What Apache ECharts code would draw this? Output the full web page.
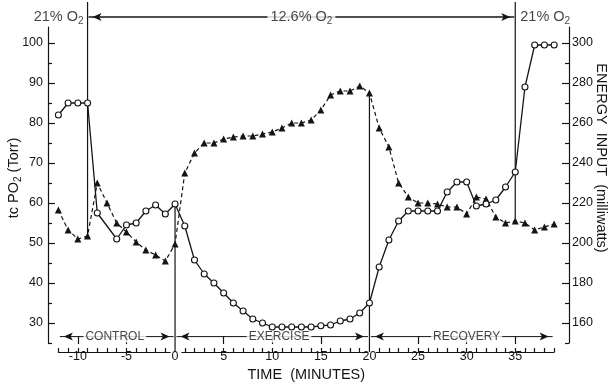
<!DOCTYPE html>
<html><head><meta charset="utf-8">
<script src="https://cdn.jsdelivr.net/npm/echarts@6/dist/echarts.min.js"></script>
<style>html,body{margin:0;padding:0;background:#fff}#c{width:611px;height:383px}</style>
</head><body><div id="c"></div>
<script>
// ---------------- DATA ----------------
const po2Times = [-12,-11,-10,-9,-8,-6,-5,-4,-3,-2,-1,0,1,2,3,4,5,6,7,8,9,10,11,12,13,14,15,16,17,18,19,20,21,22,23,24,25,26,27,28,29,30,31,32,33,34,35,36,37,38,39];
const po2Values = [82,85,85,85,57.5,51,54.5,55,58,59.5,57.25,59.75,54.25,45.75,42.25,40,37.5,35,33,31,30,29,29,29,29,29,29.3,29.5,30.5,31,32.5,35,44,50.75,55.5,58,58,58,58,62.75,65.25,65.25,59.25,59.75,60.75,64,67.75,89,99.5,99.5,99.5];
const energyTimes = [-12,-11,-10,-9,-8,-7,-6,-5,-4,-3,-2,-1,0,1,2,3,4,5,6,7,8,9,10,11,12,13,14,15,16,17,18,19,20,21,22,23,24,25,26,27,28,29,30,31,32,33,34,35,36,37,38,39];
const energyValues = [216.5,206.5,202,203.5,230,220,210,205.5,200.5,196.5,194,191,199.5,235,245,250,250,252,253,253.5,253.5,254.5,255.5,257.5,260,260,261.5,266.5,274,276,276,278.5,275,257.5,248,230,223,220,220,219.5,218,218,214.5,223,222,213,210,211,210,206.5,208,209.5];
const leftTickLabels = [30,40,50,60,70,80,90,100];
const leftMinorTicks = [25,35,45,55,65,75,85,95];
const rightTickLabels = [160,180,200,220,240,260,280,300];
const rightMinorTicks = [150,170,190,210,230,250,270,290];
const timeTickLabels = [-10,-5,0,5,10,15,20,25,30,35];
const timeMajorTicks = [-10,-5,5,10,15,25,30,35];
const rulerSegments = [[-12,-0.5],[0.7,19.8],[20.7,39]];
const phases = [{name:'CONTROL',start:-12,end:0,labelAt:-6.2},{name:'EXERCISE',start:0,end:20,labelAt:10.7},{name:'RECOVERY',start:20,end:39,labelAt:30}];
const o2ChangeTimes = [-9,35];
const o2Labels = ['21% O', '12.6% O', '21% O'];
const phaseBoundTimes = [0,20];

// ---------------- LAYOUT / STYLE ----------------
const INK = '#141414';
const FONT = "'Liberation Sans', Arial, sans-serif";
const PLOT = {left:48, right:42, top:27, bottom:40};
const W = 611;
const PLOT_W = W - PLOT.left - PLOT.right;
const X_EXT = [-13.07, 40.53];
const Y_LEFT_EXT = [25, 104];
const Y_RIGHT_EXT = [150, 308];
const tx = t => PLOT.left + (t - X_EXT[0]) / (X_EXT[1] - X_EXT[0]) * PLOT_W;
const toLeft = e => Y_LEFT_EXT[0] + (e - Y_RIGHT_EXT[0]) * (Y_LEFT_EXT[1] - Y_LEFT_EXT[0]) / (Y_RIGHT_EXT[1] - Y_RIGHT_EXT[0]);
const RULER_TOP = 340, RULER_H = 12;
const V_TOP = 110.25, V_BOTTOM = 22.75, V_O2ROW = 106.5, V_PHASEROW = 26.6;

const po2At = t => po2Values[po2Times.indexOf(t)];
const enAt = t => energyValues[energyTimes.indexOf(t)];

const chart = echarts.init(document.getElementById('c'));

const grids = [{left:PLOT.left, right:PLOT.right, top:PLOT.top, bottom:PLOT.bottom}];
const xAxes = [{gridIndex:0, type:'value', min:X_EXT[0], max:X_EXT[1], show:false, axisLine:{onZero:false}}];
const axisBase = {
  type:'value', splitLine:{show:false},
  axisLine:{show:true, onZero:false, lineStyle:{color:INK, width:1.2}},
};
const yAxes = [
  Object.assign({}, axisBase, {gridIndex:0, position:'left', min:Y_LEFT_EXT[0], max:Y_LEFT_EXT[1],
    axisTick:{show:true, inside:true, length:7, customValues:leftTickLabels, lineStyle:{color:INK,width:1.2}},
    axisLabel:{customValues:leftTickLabels, margin:5, color:INK, fontFamily:FONT, fontSize:12.5}}),
  {gridIndex:0, type:'value', position:'left', min:Y_LEFT_EXT[0], max:Y_LEFT_EXT[1], splitLine:{show:false},
    axisLine:{show:false, onZero:false}, axisLabel:{show:false},
    axisTick:{show:true, inside:true, length:4, customValues:leftMinorTicks, lineStyle:{color:INK,width:1.2}}},
  Object.assign({}, axisBase, {gridIndex:0, position:'right', min:Y_RIGHT_EXT[0], max:Y_RIGHT_EXT[1],
    axisTick:{show:true, inside:true, length:7, customValues:rightTickLabels, lineStyle:{color:INK,width:1.2}},
    axisLabel:{customValues:rightTickLabels, margin:3, color:INK, fontFamily:FONT, fontSize:12.5}}),
  {gridIndex:0, type:'value', position:'right', min:Y_RIGHT_EXT[0], max:Y_RIGHT_EXT[1], splitLine:{show:false},
    axisLine:{show:false, onZero:false}, axisLabel:{show:false},
    axisTick:{show:true, inside:true, length:4, customValues:rightMinorTicks, lineStyle:{color:INK,width:1.2}}}
];

rulerSegments.forEach(seg => {
  const gi = grids.length;
  grids.push({left:tx(seg[0]), width:tx(seg[1]) - tx(seg[0]), top:RULER_TOP, height:RULER_H});
  const ints = [];
  for (let i = Math.ceil(seg[0]); i <= Math.floor(seg[1]); i++) ints.push(i);
  xAxes.push({gridIndex:gi, type:'value', min:seg[0], max:seg[1], position:'bottom', splitLine:{show:false},
    axisLine:{show:true, onZero:false, lineStyle:{color:INK, width:1.2}},
    axisTick:{show:true, inside:true, length:4, customValues:ints, lineStyle:{color:INK, width:1.2}},
    axisLabel:{show:false}});
  yAxes.push({gridIndex:gi, type:'value', show:false, min:0, max:1, axisLine:{onZero:false}});
});
{
  const gi = grids.length;
  grids.push({left:tx(-12), width:tx(39) - tx(-12), top:RULER_TOP, height:RULER_H});
  xAxes.push({gridIndex:gi, type:'value', min:-12, max:39, position:'bottom', splitLine:{show:false},
    axisLine:{show:false, onZero:false},
    axisTick:{show:true, inside:true, length:8, customValues:timeMajorTicks, lineStyle:{color:INK, width:1.2}},
    axisLabel:{customValues:timeTickLabels, margin:6, color:INK, fontFamily:FONT, fontSize:12.5},
    name:'TIME  (MINUTES)', nameLocation:'middle', nameGap:23,
    nameTextStyle:{color:INK, fontFamily:FONT, fontSize:14.5}});
  yAxes.push({gridIndex:gi, type:'value', show:false, min:0, max:1, axisLine:{onZero:false}});
}

const series = [];
// vertical markers
function vline(data){
  return {type:'line', xAxisIndex:0, yAxisIndex:0, data:data, symbol:'none', clip:false, silent:true, z:1,
    lineStyle:{color:INK, width:1.2}};
}
o2ChangeTimes.forEach(t => {
  const low = Math.min(po2At(t), toLeft(enAt(t)));
  series.push(vline([[t, V_TOP], [t, low]]));
});
phaseBoundTimes.forEach(t => {
  const high = Math.max(po2At(t), toLeft(enAt(t)));
  series.push(vline([[t, high], [t, V_BOTTOM]]));
});
// arrows
function arrow(t0, t1, v, lw){
  return {type:'line', xAxisIndex:0, yAxisIndex:0, clip:false, silent:true, z:1,
    data:[{value:[t0, v], symbol:'arrow', symbolRotate:90, symbolOffset:[4,0]},
          {value:[t1, v], symbol:'arrow', symbolRotate:-90, symbolOffset:[-4,0]}],
    symbolSize:[6,9], itemStyle:{color:INK}, lineStyle:{color:INK, width:lw}};
}
series.push(arrow(o2ChangeTimes[0] + 0.1, o2ChangeTimes[1] - 0.1, V_O2ROW, 1.4));
phases.forEach(p => series.push(arrow(p.start + 0.15, p.end - 0.15, V_PHASEROW, 1)));

const richO2 = {
  t:{fontSize:14.5, fontFamily:FONT, color:INK},
  s:{fontSize:10, fontFamily:FONT, color:INK, padding:[8,0,0,0]}
};
const labelData = [
  {value:[o2ChangeTimes[0], V_O2ROW], label:{position:'left', distance:3, formatter:'{t|' + o2Labels[0] + '}{s|2}'}},
  {value:[(o2ChangeTimes[0] + o2ChangeTimes[1]) / 2, V_O2ROW], label:{position:'inside', formatter:'{t|' + o2Labels[1] + '}{s|2}', backgroundColor:'#fff', padding:[0,3]}},
  {value:[o2ChangeTimes[1], V_O2ROW], label:{position:'right', distance:4, formatter:'{t|' + o2Labels[2] + '}{s|2}'}}
];
phases.forEach(p => labelData.push({value:[p.labelAt, V_PHASEROW],
  label:{position:'inside', formatter:p.name, backgroundColor:'#fff', padding:[0,2],
    fontSize:12, fontFamily:FONT, color:INK}}));
series.push({type:'scatter', xAxisIndex:0, yAxisIndex:0, clip:false, silent:true, z:3,
  symbolSize:2, itemStyle:{color:'rgba(0,0,0,0)'}, data:labelData,
  label:{show:true, rich:richO2, color:INK}});

// data series
series.push({type:'line', name:'Energy input', xAxisIndex:0, yAxisIndex:2, z:4,
  data:energyTimes.map((t, i) => [t, energyValues[i]]),
  symbol:'triangle', symbolSize:7, itemStyle:{color:INK},
  lineStyle:{color:INK, width:1.2, type:[4,3]}});
series.push({type:'line', name:'tc PO2', xAxisIndex:0, yAxisIndex:0, z:5,
  data:po2Times.map((t, i) => [t, po2Values[i]]),
  symbol:'circle', symbolSize:6, showAllSymbol:true,
  itemStyle:{color:'#fff', borderColor:INK, borderWidth:1.1},
  lineStyle:{color:INK, width:1.3}});

chart.setOption({
  backgroundColor:'#fff',
  animation:false,
  grid:grids, xAxis:xAxes, yAxis:yAxes, series:series,
  graphic:[
    {type:'text', x:14, y:178, rotation:Math.PI/2,
      style:{text:'tc PO{s|2} (Torr)', font:'14.5px ' + FONT, fill:INK, align:'center', verticalAlign:'middle',
        rich:{s:{fontSize:10, padding:[8,0,0,0]}}}},
    {type:'text', x:601, y:158, rotation:-Math.PI/2,
      style:{text:'ENERGY  INPUT  (milliwatts)', font:'14.5px ' + FONT, fill:INK, align:'center', verticalAlign:'middle'}}
  ]
});
</script></body></html>
